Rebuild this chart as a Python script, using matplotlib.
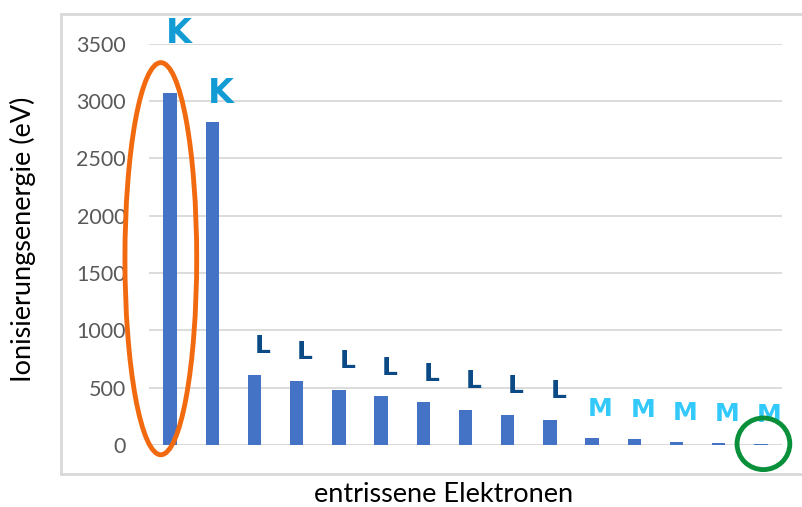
import matplotlib.pyplot as plt
from matplotlib.patches import Ellipse
from matplotlib.lines import Line2D

# ionization energies of phosphorus, removed electrons from the inside out
energies = [3069.8, 2816.9, 611.7, 560.8, 479.4, 424.4, 372.1, 309.6,
            263.6, 220.4, 65.0, 51.4, 30.2, 19.8, 10.5]
shells = ['K', 'K', 'L', 'L', 'L', 'L', 'L', 'L', 'L', 'L', 'M', 'M', 'M', 'M', 'M']
yticks = [0, 500, 1000, 1500, 2000, 2500, 3000, 3500]

shell_colors = {'K': '#139bd4', 'L': '#0b4a85', 'M': '#33c9fb'}
shell_sizes = {'K': 24, 'L': 18, 'M': 18}

plt.rcParams['font.family'] = ['Lato', 'DejaVu Sans']

fig = plt.figure(figsize=(8.03, 5.07), dpi=100)
ax = fig.add_axes([149 / 803, 1 - 445 / 507, 633 / 803, (445 - 43.7) / 507])

x = list(range(len(energies)))
ax.bar(x, energies, width=0.32, color='#4472c4', zorder=2)

ax.set_xlim(-0.5, len(energies) - 0.5)
ax.set_ylim(0, 3500)
ax.set_yticks(yticks)
ax.set_xticks([])
ax.yaxis.grid(True, color='#d9d9d9', linewidth=1.3, zorder=0)
ax.tick_params(axis='y', length=0, labelsize=15.5, labelcolor='#595959', pad=16.5)
for s in ax.spines.values():
    s.set_visible(False)
ax.axhline(0, color='#d9d9d9', linewidth=1.3, zorder=1)

# hand-written shell letters
for i, (v, sh) in enumerate(zip(energies, shells)):
    off = 520 if i == 0 else 250
    ax.text(i + 0.2, v + off, sh, color=shell_colors[sh], fontsize=shell_sizes[sh],
            fontweight='bold', ha='center', va='center', clip_on=False,
            family='DejaVu Sans')

# hand-drawn circles
ax.add_patch(Ellipse((-0.22, energies[0] / 2 + 90), 1.7, 3420, fill=False,
                     edgecolor='#f26a10', linewidth=3.5, clip_on=False, zorder=3))
ax.add_patch(Ellipse((14.06, energies[-1]), 1.25, 450, fill=False,
                     edgecolor='#0a8f3a', linewidth=3.5, clip_on=False, zorder=3))

# chart frame (cropped screenshot)
gc = '#d9d9d9'
fig.add_artist(Line2D([61 / 803, 1], [1 - 14 / 507] * 2, color=gc, lw=2))
fig.add_artist(Line2D([61 / 803, 1], [1 - 474 / 507] * 2, color=gc, lw=2))
fig.add_artist(Line2D([61 / 803] * 2, [1 - 14 / 507, 1 - 474 / 507], color=gc, lw=2))

fig.text(444 / 803, 1 - 495 / 507, 'entrissene Elektronen', fontsize=19.5,
         ha='center', va='center', color='black')
fig.text(23 / 803, 1 - 239 / 507, 'Ionisierungsenergie (eV)', fontsize=19.5,
         ha='center', va='center', rotation=90, color='black')

fig.savefig('out.png', dpi=100)
